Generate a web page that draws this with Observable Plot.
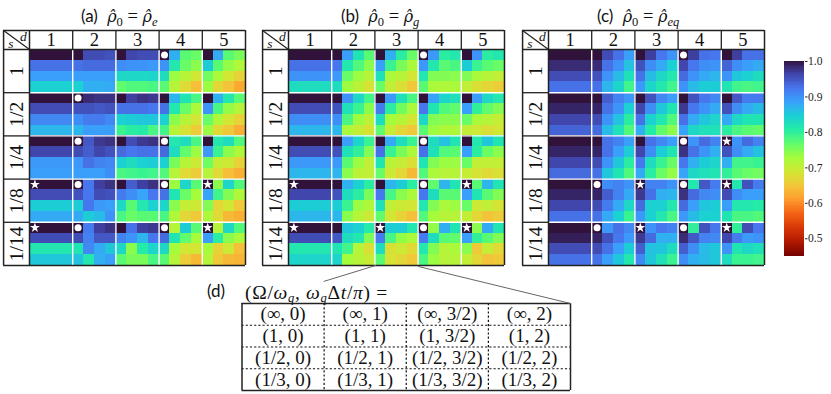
<!DOCTYPE html>
<html><head><meta charset="utf-8">
<script src="https://cdn.jsdelivr.net/npm/d3@7"></script>
<script src="https://cdn.jsdelivr.net/npm/@observablehq/plot@0.6"></script>
<style>
html,body{margin:0;padding:0;background:#fff;width:831px;height:394px;overflow:hidden}
#page{position:relative;width:831px;height:394px}
#page>svg,#page>div.p{position:absolute}
.t{position:absolute;white-space:nowrap;font-family:"Liberation Serif",serif;color:#111;font-size:18.5px;line-height:20px}
.t .l{font-family:"Lato","Open Sans",sans-serif;font-size:17px}
.t i{font-style:italic}
.t sub{font-size:12.5px;line-height:0;vertical-align:-4px}
.t .r{font-family:"DejaVu Serif",serif;font-style:italic;font-size:16px}
.t.f{font-size:19.5px;letter-spacing:.7px;line-height:18px}
.t.f sub{font-size:12.5px;vertical-align:-2.5px}
</style></head><body><div id="page"></div>
<script>
const dLabels = ["1","2","3","4","5"];
const sLabels = ["1","1/2","1/4","1/8","1/14"];
const colLabels = ["0","1","3/2","2"];
const rowLabels = ["∞","1","1/2","1/3"];
const legendTicks = [0.5,0.6,0.7,0.8,0.9,1.0];
const turboColors = ["#7a0402","#b11901","#d93806","#f36315","#fe9b2d","#f3c63a","#d1e834","#a4fc3b","#61fc6c","#24eca6","#1bcfd4","#39a2fc","#4675ed","#4145ab","#30123b"];

// rows top to bottom, one block per (s, d): 4 x 4 values
const panelA = [
[1,1,1,1, 1,.955,.955,.95, 1,.96,.955,.955, 1,.87,.77,.76, 1,.875,.77,.75],
[.925,.925,.925,.925, .925,.93,.93,.93, .9,.895,.895,.89, .895,.81,.76,.74, .845,.77,.735,.715],
[.885,.885,.885,.885, .885,.885,.885,.885, .83,.83,.83,.835, .825,.73,.71,.685, .755,.72,.685,.66],
[.84,.84,.84,.84, .84,.87,.87,.875, .765,.775,.775,.78, .77,.71,.67,.64, .73,.665,.645,.62],
[1,1,1,1, 1,.98,.975,.975, 1,.965,.975,.97, 1,.865,.815,.78, 1,.87,.81,.77],
[.955,.955,.955,.955, .95,.95,.945,.95, .925,.925,.925,.92, .925,.81,.76,.72, .895,.78,.735,.71],
[.905,.905,.905,.905, .9,.915,.915,.905, .84,.845,.85,.85, .84,.74,.71,.685, .76,.715,.685,.66],
[.865,.865,.865,.865, .865,.885,.885,.885, .79,.8,.805,.78, .785,.71,.68,.655, .73,.67,.65,.625],
[1,1,1,1, 1,.945,.97,.975, 1,.955,.97,.975, 1,.81,.825,.78, 1,.81,.825,.775],
[.96,.96,.96,.96, .955,.94,.96,.95, .93,.92,.925,.925, .93,.825,.765,.73, .89,.79,.74,.715],
[.89,.89,.89,.89, .89,.925,.91,.905, .84,.825,.84,.845, .84,.75,.71,.69, .755,.695,.69,.66],
[.885,.885,.885,.885, .885,.885,.885,.9, .78,.785,.79,.785, .775,.71,.67,.655, .71,.67,.64,.625],
[1,1,1,1, 1,.92,.965,.975, 1,.94,.965,.975, 1,.73,.835,.77, 1,.74,.835,.775],
[.955,.955,.955,.955, .95,.92,.955,.95, .915,.9,.88,.92, .925,.815,.76,.725, .88,.785,.745,.715],
[.845,.845,.845,.845, .845,.92,.89,.885, .83,.77,.81,.84, .835,.74,.695,.69, .745,.665,.685,.65],
[.875,.875,.875,.875, .875,.845,.86,.895, .78,.76,.77,.77, .78,.715,.665,.65, .715,.67,.635,.625],
[1,1,1,1, 1,.915,.965,.975, 1,.925,.965,.97, 1,.71,.845,.77, 1,.71,.83,.775],
[.955,.955,.955,.955, .955,.91,.945,.945, .91,.895,.865,.92, .93,.815,.765,.725, .885,.8,.74,.72],
[.81,.81,.81,.81, .815,.905,.875,.85, .83,.74,.805,.835, .83,.725,.685,.685, .725,.66,.69,.64],
[.85,.85,.85,.85, .855,.81,.87,.885, .77,.75,.75,.78, .77,.71,.655,.635, .71,.65,.635,.63]];
const panelB = [
[1,1,1,1, 1,.885,.815,.77, 1,.87,.8,.76, 1,.89,.8,.81, 1,.895,.8,.81],
[.925,.925,.925,.925, .92,.81,.775,.74, .885,.79,.75,.72, .89,.81,.77,.78, .845,.79,.77,.76],
[.895,.895,.895,.895, .89,.76,.73,.71, .82,.72,.71,.685, .81,.745,.745,.74, .745,.72,.71,.7],
[.825,.825,.825,.825, .825,.73,.705,.68, .76,.7,.675,.65, .77,.72,.715,.72, .7,.675,.665,.655],
[1,1,1,1, 1,.895,.83,.785, 1,.89,.82,.78, 1,.88,.835,.82, 1,.885,.83,.81],
[.955,.955,.955,.955, .95,.82,.79,.74, .915,.8,.755,.72, .92,.815,.775,.765, .885,.795,.765,.745],
[.9,.9,.9,.9, .9,.78,.73,.705, .825,.725,.71,.685, .83,.745,.74,.74, .76,.72,.71,.695],
[.865,.865,.865,.865, .865,.72,.695,.68, .765,.695,.665,.65, .77,.73,.715,.715, .7,.69,.675,.685],
[1,1,1,1, 1,.885,.835,.79, 1,.875,.825,.79, 1,.825,.855,.815, 1,.81,.85,.815],
[.955,.955,.955,.955, .95,.82,.795,.745, .925,.79,.75,.72, .925,.82,.775,.77, .885,.8,.76,.74],
[.89,.89,.89,.89, .89,.77,.73,.7, .815,.705,.695,.675, .815,.745,.73,.73, .76,.7,.7,.7],
[.865,.865,.865,.865, .865,.74,.705,.7, .76,.69,.665,.635, .775,.72,.71,.71, .695,.68,.67,.675],
[1,1,1,1, 1,.87,.84,.8, 1,.865,.845,.8, 1,.765,.865,.815, 1,.77,.865,.815],
[.96,.96,.96,.96, .95,.825,.8,.75, .92,.78,.74,.72, .92,.825,.77,.77, .885,.815,.77,.745],
[.845,.845,.845,.845, .845,.79,.73,.715, .82,.7,.69,.685, .81,.745,.72,.73, .76,.69,.7,.68],
[.865,.865,.865,.865, .865,.74,.71,.69, .765,.685,.66,.64, .775,.725,.71,.71, .7,.665,.645,.655],
[1,1,1,1, 1,.85,.84,.805, 1,.845,.845,.81, 1,.735,.87,.815, 1,.74,.875,.815],
[.955,.955,.955,.955, .945,.825,.81,.745, .915,.78,.735,.72, .915,.825,.77,.765, .885,.795,.77,.745],
[.81,.81,.81,.81, .815,.785,.71,.675, .825,.675,.69,.67, .81,.745,.71,.72, .74,.65,.695,.67],
[.835,.835,.835,.835, .835,.725,.71,.695, .77,.68,.665,.65, .78,.73,.71,.71, .7,.665,.645,.65]];
const panelC = [
[1,1,1,1, 1,.955,.925,.885, 1,.965,.92,.895, 1,.965,.925,.92, 1,.965,.925,.925],
[.98,.98,.98,.98, .98,.925,.895,.855, .95,.9,.875,.84, .96,.92,.9,.895, .935,.9,.885,.875],
[.955,.955,.955,.955, .95,.895,.86,.82, .925,.86,.83,.81, .93,.895,.875,.865, .895,.85,.84,.825],
[.925,.925,.925,.925, .925,.865,.835,.785, .89,.835,.81,.785, .895,.86,.845,.845, .815,.785,.78,.785],
[1,1,1,1, 1,.94,.91,.89, 1,.95,.905,.885, 1,.95,.92,.905, 1,.945,.915,.915],
[.985,.985,.985,.985, .985,.925,.895,.84, .96,.9,.85,.815, .97,.92,.895,.875, .95,.9,.875,.86],
[.96,.96,.96,.96, .955,.895,.855,.8, .925,.84,.81,.775, .925,.875,.85,.835, .875,.83,.815,.815],
[.935,.935,.935,.935, .93,.86,.82,.775, .87,.805,.765,.74, .88,.83,.82,.82, .8,.78,.77,.765],
[1,1,1,1, 1,.925,.91,.885, 1,.925,.905,.885, 1,.895,.93,.91, 1,.895,.93,.91],
[.985,.985,.985,.985, .985,.925,.885,.845, .96,.9,.845,.815, .975,.925,.895,.87, .95,.9,.875,.855],
[.96,.96,.96,.96, .955,.895,.85,.8, .92,.825,.79,.76, .92,.87,.845,.835, .87,.785,.785,.79],
[.93,.93,.93,.93, .925,.85,.815,.775, .875,.8,.76,.735, .88,.83,.82,.815, .795,.77,.76,.755],
[1,1,1,1, 1,.9,.91,.895, 1,.91,.91,.895, 1,.81,.945,.915, 1,.81,.95,.915],
[.985,.985,.985,.985, .985,.94,.91,.875, .97,.925,.87,.865, .975,.93,.905,.9, .955,.9,.885,.885],
[.96,.96,.96,.96, .955,.915,.875,.83, .93,.84,.84,.81, .93,.885,.85,.845, .885,.81,.81,.805],
[.925,.925,.925,.925, .925,.875,.84,.79, .89,.84,.81,.78, .89,.86,.84,.84, .815,.78,.78,.775],
[1,1,1,1, 1,.89,.925,.905, 1,.895,.92,.91, 1,.795,.95,.92, 1,.795,.955,.92],
[.99,.99,.99,.99, .985,.95,.92,.89, .97,.93,.87,.87, .98,.945,.91,.905, .96,.915,.89,.895],
[.955,.955,.955,.955, .955,.925,.885,.845, .94,.855,.85,.825, .94,.9,.86,.85, .895,.815,.83,.82],
[.925,.925,.925,.925, .925,.885,.85,.81, .905,.85,.82,.79, .9,.87,.86,.85, .825,.79,.79,.785]];

// [s index, d index] of the block markers
const circlesA = [[0,3],[1,1],[2,1],[2,3],[3,1],[3,3],[4,1],[4,3]];
const starsA   = [[3,0],[3,4],[4,0],[4,4]];
const circlesB = [[0,3],[2,3],[3,3],[4,3]];
const starsB   = [[3,0],[3,4],[4,0],[4,2],[4,4]];
const circlesC = [[0,3],[2,3],[3,1],[3,3],[4,1],[4,3]];
const starsC   = [[2,4],[3,2],[3,4],[4,2],[4,4]];

const serif = "Liberation Serif";
const colorScale = {type:"linear", domain:turboColors.map((_,i)=>0.45+0.55*i/(turboColors.length-1)), range:turboColors};
const page = document.getElementById("page");
function place(el,left,top){ el.style.left=left+"px"; el.style.top=top+"px"; page.appendChild(el); }
function label(html,left,top,cls){ const e=document.createElement("div"); e.className="t "+(cls||""); e.innerHTML=html; place(e,left,top); }

function panel(rows,circles,stars,left){
  const cells = rows.flatMap((r,y)=>r.map((v,x)=>({x,y,v})));
  const headW=-2.4, headH=-1.76;
  const pos = ([s,d])=>({x:d*4+.5,y:s*4+.5});
  return place(Plot.plot({
    width:250,height:245,margin:0,
    style:{fontFamily:serif},
    x:{domain:[0,20],range:[29,245],axis:null},
    y:{domain:[0,20],range:[24,240],axis:null},
    color:colorScale,
    marks:[
      Plot.rect(cells,{x1:"x",x2:d=>d.x+1,y1:"y",y2:d=>d.y+1,fill:"v",shapeRendering:"crispEdges"}),
      Plot.ruleX([4,8,12,16],{y1:0,y2:20,stroke:"#fff",strokeWidth:1.4}),
      Plot.ruleY([4,8,12,16],{x1:0,x2:20,stroke:"#fff",strokeWidth:1.4}),
      Plot.ruleX([4,8,12,16],{y1:headH,y2:0,stroke:"#222",strokeWidth:1.3}),
      Plot.ruleY([4,8,12,16],{x1:headW,x2:0,stroke:"#222",strokeWidth:1.3}),
      Plot.ruleX([headW,0,20],{y1:headH,y2:20,stroke:"#222",strokeWidth:1.5}),
      Plot.ruleY([headH,0,20],{x1:headW,x2:20,stroke:"#222",strokeWidth:1.5}),
      Plot.line([[headW,headH],[0,0]],{x:d=>d[0],y:d=>d[1],stroke:"#222",strokeWidth:1.2}),
      Plot.text(dLabels,{x:(d,i)=>i*4+2,y:headH/2,text:d=>d,fontFamily:serif,fontSize:18.5,fill:"#111"}),
      Plot.text(sLabels,{x:headW/2,y:(d,i)=>i*4+2,text:d=>d,rotate:-90,fontFamily:serif,fontSize:19.5,fill:"#111"}),
      Plot.text(["s"],{x:headW*.72,y:headH*.3,text:d=>d,fontFamily:serif,fontStyle:"italic",fontSize:13.5,fill:"#111"}),
      Plot.text(["d"],{x:headW*.24,y:headH*.68,text:d=>d,fontFamily:serif,fontStyle:"italic",fontSize:13.5,fill:"#111"}),
      Plot.dot(circles.map(pos),{x:"x",y:"y",r:3.5,fill:"#fff",stroke:"none"}),
      Plot.dot(stars.map(pos),{x:"x",y:"y",r:3.1,symbol:"star",fill:"#fff",stroke:"none"})
    ]
  }),left,25);
}
panel(panelA,circlesA,starsA,0);
panel(panelB,circlesB,starsB,259);
panel(panelC,circlesC,starsC,519);

const rho='<span class="r">ρ̂</span>';
label(`<span class="l">(a)</span>&nbsp; ${rho}<sub>0</sub> = ${rho}<sub><i>e</i></sub>`,81,6);
label(`<span class="l">(b)</span>&nbsp; ${rho}<sub>0</sub> = ${rho}<sub><i>g</i></sub>`,341,6);
label(`<span class="l">(c)</span>&nbsp; ${rho}<sub>0</sub> = ${rho}<sub><i>eq</i></sub>`,597,6);

// colour bar
const barSteps = d3.range(0.45,1,0.005);
place(Plot.plot({
  width:61,height:215,marginLeft:14,marginRight:27,marginTop:11,marginBottom:9,
  style:{fontFamily:serif},
  x:{domain:[0,1],axis:null},
  y:{domain:[0.45,1],axis:null},
  color:colorScale,
  marks:[
    Plot.rect(barSteps,{x1:0,x2:1,y1:d=>d,y2:d=>d+0.0055,fill:d=>d,shapeRendering:"crispEdges"}),
    Plot.axisY(legendTicks,{anchor:"right",tickFormat:".1f",tickSize:2.5,tickPadding:1,fontSize:11.5,fontFamily:serif,color:"#222"})
  ]
}),770,50);

// table (d)
const tableCells = rowLabels.flatMap((r,y)=>colLabels.map((c,x)=>({x:x+.5,y:y+.5,t:`(${r}, ${c})`})));
place(Plot.plot({
  width:345,height:134,margin:0,
  style:{fontFamily:serif},
  x:{domain:[0,4],range:[11.5,340],axis:null},
  y:{domain:[0,4],range:[43,130],axis:null},
  marks:[
    Plot.ruleX([1,2,3],{y1:0,y2:4,stroke:"#111",strokeWidth:1.2,strokeDasharray:"2.2,2"}),
    Plot.ruleY([1,2,3],{x1:0,x2:4,stroke:"#111",strokeWidth:1.2,strokeDasharray:"2.2,2"}),
    Plot.ruleX([0,4],{y1:0,y2:4,stroke:"#222",strokeWidth:1.5}),
    Plot.ruleY([0,4],{x1:0,x2:4,stroke:"#222",strokeWidth:1.5}),
    Plot.text(tableCells,{x:"x",y:"y",text:"t",fontFamily:serif,fontSize:19,fill:"#111"}),
    Plot.line([[4,0],[2.15,-1.7]],{x:d=>d[0],y:d=>d[1],stroke:"#666",strokeWidth:1}),
    Plot.line([[1,-1.02],[1.63,-1.75]],{x:d=>d[0],y:d=>d[1],stroke:"#666",strokeWidth:1})
  ]
}),230,260);
label(`<span class="l">(d)</span>`,207,281);
label(`(Ω/<i>ω<sub>q</sub></i>, <i>ω<sub>q</sub></i>Δ<i>t</i>/<i>π</i>) =`,245,284,"f");
</script></body></html>
